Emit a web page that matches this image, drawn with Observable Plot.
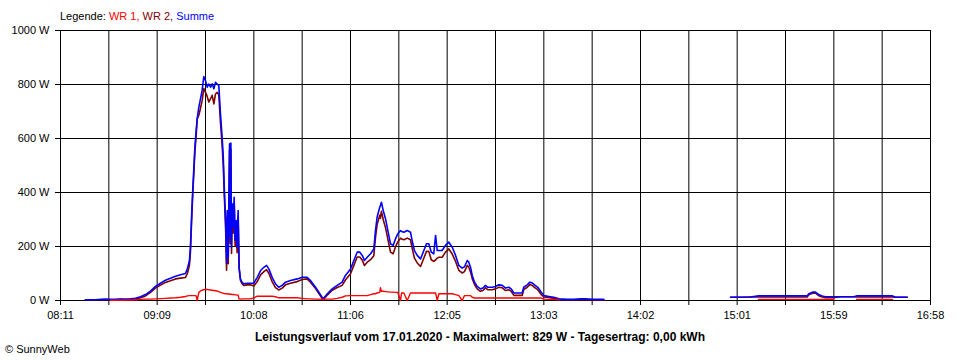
<!DOCTYPE html>
<html>
<head>
<meta charset="utf-8">
<script src="https://cdn.jsdelivr.net/npm/d3@7"></script>
<script src="https://cdn.jsdelivr.net/npm/@observablehq/plot@0.6"></script>
<style>
  html, body { margin: 0; padding: 0; background: #fff; }
  #wrap { position: relative; width: 960px; height: 360px; font-family: "Liberation Sans", Arial, sans-serif; font-size: 11px; color: #000; }
  #legend { position: absolute; left: 60px; top: 9px; line-height: 14px; white-space: nowrap; }
  #caption { position: absolute; left: 0; width: 960px; top: 330px; text-align: center; font-weight: bold; font-size: 12px; line-height: 14px; }
  #copy { position: absolute; left: 5px; top: 342px; line-height: 14px; }
</style>
</head>
<body>
<div id="wrap">
  <div id="chart"></div>
  <div id="legend"></div>
  <div id="caption"></div>
  <div id="copy"></div>
</div>
<script>
// ---- data ----
const legendLabel = "Legende:";
const seriesNames = ["WR 1", "WR 2", "Summe"];
const seriesColors = ["#ff0000", "#800000", "#0000ff"];
const captionText = "Leistungsverlauf vom 17.01.2020 - Maximalwert: 829 W - Tagesertrag: 0,00 kWh";
const copyText = "© SunnyWeb";

const xTickLabels = ["08:11","09:09","10:08","11:06","12:05","13:03","14:02","15:01","15:59","16:58"];
const yTickValues = [0, 200, 400, 600, 800, 1000];

// time in minutes after midnight
const times = [506.1,512.2,518.3,521.3,524.3,527.3,530.4,533.4,536.4,539.5,542.5,545.5,548.5,551.6,554.6,557.6,560.7,563.7,566.7,567.9,
569.1,569.7,570.4,571.0,571.7,572.4,573.2,573.8,574.8,575.8,576.8,577.8,578.8,579.9,580.8,581.9,582.9,583.9,584.9,585.9,
586.9,587.9,588.9,589.6,590.2,591.0,591.6,592.0,592.6,593.4,593.8,594.2,594.6,595.0,595.6,596.2,596.8,597.4,598.0,598.6,
599.2,600.0,600.9,602.0,604.3,606.1,608.1,610.2,612.2,614.2,615.8,617.2,619.2,621.2,623.2,625.3,627.3,630.3,634.4,637.4,
640.4,642.4,645.5,647.5,650.1,652.6,655.6,658.6,661.6,663.6,666.7,668.7,670.7,672.3,673.8,675.1,676.8,678.8,680.8,681.8,
682.8,684.4,684.8,685.4,686.5,687.9,689.3,690.9,692.5,693.9,695.3,697.0,697.6,699.0,701.0,703.0,704.0,705.4,707.1,709.1,
710.7,712.7,714.1,715.6,717.1,718.2,719.2,720.2,722.2,724.2,726.2,728.3,730.3,732.3,734.3,735.7,737.4,738.3,739.4,740.4,
741.8,743.4,745.4,747.1,748.4,749.8,752.5,754.5,756.5,758.6,760.6,762.6,764.0,765.6,768.6,770.7,771.6,773.7,775.3,776.7,
778.1,780.1,782.2,783.8,786.8,789.8,792.9,797.9,801.9,806.0,809.0,813.1,820.1,860.0,896.9,902.9,909.0,913.8,921.1,930.2,
939.3,943.3,944.3,946.5,948.3,950.3,952.4,954.4,959.2,963.5,971.4,973.2,981.7,995.0,996.8,1003.9];

// Summe (W)
const summe = [3,3,4,4,4,5,5,6,8,14,22,35,52,64,75,82,90,95,100,118,
148,197,309,396,481,568,630,673,716,747,778,829,815,790,802,790,802,784,808,802,
796,691,605,531,420,296,137,333,160,580,234,583,197,358,271,382,222,296,197,333,
123,80,68,62,64,64,64,86,111,123,130,117,86,62,49,56,68,74,80,86,
86,74,49,31,6,25,43,56,68,93,117,148,179,179,167,148,160,173,191,259,
309,346,352,364,333,302,259,210,204,228,247,259,256,253,259,253,222,185,167,154,
179,210,210,179,173,241,185,185,185,204,216,197,167,130,120,125,148,142,123,93,
68,52,43,47,56,49,49,52,58,56,46,49,43,28,28,28,49,58,68,65,
58,49,31,18,15,12,6,4,4,6,6,4,4,null,12,12,13,17,17,17,
17,17,25,31,31,22,17,14,14,14,14,17,17,17,12,12];

// WR 2 (W)
const wr2 = [3,3,4,3,3,4,3,4,5,10,17,30,46,57,67,73,80,83,85,101,
130,179,291,378,463,550,613,673,686,712,740,785,772,755,735,748,760,728,765,771,
762,660,577,500,394,271,112,308,136,556,211,560,174,336,249,360,201,275,177,313,
118,75,62,56,58,58,54,70,95,107,114,101,70,48,39,46,58,64,70,78,
80,68,44,26,2,20,38,48,56,76,99,130,161,161,149,130,142,151,166,234,
281,316,305,330,299,269,227,179,173,198,217,231,228,225,231,225,194,157,139,126,
151,182,182,151,145,150,157,160,160,179,191,172,145,112,102,107,130,124,105,81,
59,43,34,38,47,40,40,43,49,47,37,40,34,19,19,19,40,49,59,56,
49,40,22,13,11,8,3,2,2,3,3,2,2,null,12,12,13,13,13,13,
13,13,21,27,27,18,13,10,10,14,14,13,13,13,12,12];

// WR 1 (W)
const wr1 = [null,null,null,1,1,1,2,2,3,4,5,5,6,7,8,9,10,12,15,17,
18,18,18,18,18,18,17,0,30,35,38,40,41,41,40,39,38,37,36,35,
33,30,28,27,26,25,25,25,24,24,23,23,23,22,22,22,21,21,20,20,
5,5,6,6,6,6,10,16,16,16,16,16,16,14,10,10,10,10,10,8,
6,6,5,5,4,5,5,8,12,17,18,18,18,18,18,18,18,22,25,25,
28,30,47,34,34,33,32,31,31,30,30,0,28,28,0,28,28,28,28,28,
28,28,28,28,28,28,0,25,25,25,25,25,22,18,0,18,18,18,18,12,
9,9,9,9,9,9,9,9,9,9,9,9,9,9,9,9,9,9,9,9,
9,9,9,5,4,4,3,null,null,null,null,null,null,null,null,null,null,4,4,4,
4,4,4,4,4,4,4,4,4,null,null,4,4,4,null,null];

// ---- build ----
const rows = times.map((t, i) => ({t, wr1: wr1[i], wr2: wr2[i], summe: summe[i]}));
const toMin = s => { const [h, m] = s.split(":").map(Number); return h * 60 + m; };
const x0 = toMin(xTickLabels[0]);
const x1 = toMin(xTickLabels[xTickLabels.length - 1]);
const nSteps = (xTickLabels.length - 1) * 2;
const xTicks = d3.range(nSteps + 1).map(i => x0 + (x1 - x0) * i / nSteps);
const labelMap = new Map(xTicks.map((t, i) => [t, i % 2 === 0 ? xTickLabels[i / 2] : ""]));

const chart = Plot.plot({
  width: 960,
  height: 360,
  marginTop: 30,
  marginBottom: 60,
  marginLeft: 60,
  marginRight: 30,
  style: {fontFamily: '"Liberation Sans", Arial, sans-serif', fontSize: "11px", color: "#000", background: "#fff"},
  x: {domain: [x0, x1]},
  y: {domain: [0, 1000]},
  marks: [
    Plot.gridX(xTicks, {stroke: "#000", strokeOpacity: 1}),
    Plot.gridY(yTickValues, {stroke: "#000", strokeOpacity: 1}),
    Plot.axisX({ticks: xTicks, tickFormat: d => labelMap.get(d), tickSize: 5, tickPadding: 6, label: null, stroke: "#000", fontSize: 11}),
    Plot.axisY({ticks: yTickValues, tickFormat: d => d + " W", tickSize: 5, tickPadding: 6, label: null, stroke: "#000", fontSize: 11}),
    Plot.line(rows, {x: "t", y: "wr2", stroke: seriesColors[1], strokeWidth: 1.6}),
    Plot.line(rows, {x: "t", y: "summe", stroke: seriesColors[2], strokeWidth: 1.6}),
    Plot.line(rows, {x: "t", y: "wr1", stroke: seriesColors[0], strokeWidth: 1.4})
  ]
});
document.getElementById("chart").appendChild(chart);

// legend
const leg = document.getElementById("legend");
leg.appendChild(document.createTextNode(legendLabel + " "));
seriesNames.forEach((n, i) => {
  const s = document.createElement("span");
  s.style.color = seriesColors[i];
  s.textContent = n + (i < seriesNames.length - 1 ? ", " : "");
  leg.appendChild(s);
});
document.getElementById("caption").textContent = captionText;
document.getElementById("copy").textContent = copyText;
</script>
</body>
</html>
